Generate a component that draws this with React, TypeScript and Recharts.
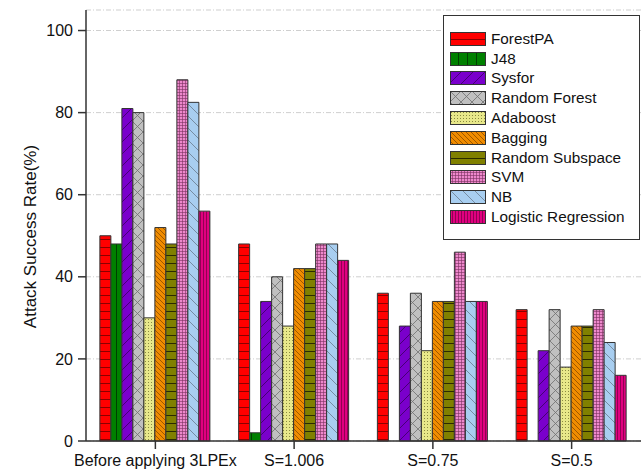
import { BarChart, Bar, XAxis, YAxis, CartesianGrid, Legend } from "recharts";

const groups = ["Before applying 3LPEx", "S=1.006", "S=0.75", "S=0.5"];
const forestPA = [50, 48, 36, 32];
const j48 = [48, 2, 0, 0];
const sysfor = [81, 34, 28, 22];
const randomForest = [80, 40, 36, 32];
const adaboost = [30, 28, 22, 18];
const bagging = [52, 42, 34, 28];
const randomSubspace = [48, 42, 34, 28];
const svm = [88, 48, 46, 32];
const nb = [82.5, 48, 34, 24];
const logistic = [56, 44, 34, 16];
const yTicks = [0, 20, 40, 60, 80, 100];

const series = [
  { key: "forestPA", name: "ForestPA", values: forestPA, pat: "pForest" },
  { key: "j48", name: "J48", values: j48, pat: "pJ48" },
  { key: "sysfor", name: "Sysfor", values: sysfor, pat: "pSysfor" },
  { key: "randomForest", name: "Random Forest", values: randomForest, pat: "pRF" },
  { key: "adaboost", name: "Adaboost", values: adaboost, pat: "pAda" },
  { key: "bagging", name: "Bagging", values: bagging, pat: "pBag" },
  { key: "randomSubspace", name: "Random Subspace", values: randomSubspace, pat: "pRS" },
  { key: "svm", name: "SVM", values: svm, pat: "pSVM" },
  { key: "nb", name: "NB", values: nb, pat: "pNB" },
  { key: "logistic", name: "Logistic Regression", values: logistic, pat: "pLR" },
];

const data = groups.map((g, i) => {
  const row: Record<string, string | number> = { group: g };
  for (const s of series) row[s.key] = s.values[i];
  return row;
});

const FONT = '"Liberation Sans", Arial, sans-serif';
const EDGE = "#333";

function Patterns() {
  return (
    <defs>
      <pattern id="pForest" patternUnits="userSpaceOnUse" width="8" height="8">
        <rect width="8" height="8" fill="#ff0000" />
        <line x1="0" y1="7.5" x2="8" y2="7.5" stroke="#8a0000" strokeWidth="1" />
      </pattern>
      <pattern id="pJ48" patternUnits="userSpaceOnUse" width="9" height="9">
        <rect width="9" height="9" fill="#008000" />
        <line x1="8.5" y1="0" x2="8.5" y2="9" stroke="#004000" strokeWidth="1" />
      </pattern>
      <pattern id="pSysfor" patternUnits="userSpaceOnUse" width="12" height="12">
        <rect width="12" height="12" fill="#7a00cc" />
        <path d="M0 12 L12 0 M-3 3 L3 -3 M9 15 L15 9" stroke="#3a0060" strokeWidth="0.8" />
      </pattern>
      <pattern id="pRF" patternUnits="userSpaceOnUse" width="11" height="11">
        <rect width="11" height="11" fill="#c0c0c0" />
        <path d="M0 0 L11 11 M0 11 L11 0" stroke="#707070" strokeWidth="0.8" />
      </pattern>
      <pattern id="pAda" patternUnits="userSpaceOnUse" width="3" height="3">
        <rect width="3" height="3" fill="#e8e88a" />
        <rect x="1" y="1" width="1" height="1" fill="#8a8a40" />
      </pattern>
      <pattern id="pBag" patternUnits="userSpaceOnUse" width="5" height="5">
        <rect width="5" height="5" fill="#f08c00" />
        <path d="M0 0 L5 5 M-1 4 L1 6 M4 -1 L6 1" stroke="#7a4000" strokeWidth="0.7" />
      </pattern>
      <pattern id="pRS" patternUnits="userSpaceOnUse" width="8" height="8">
        <rect width="8" height="8" fill="#808000" />
        <line x1="0" y1="7.5" x2="8" y2="7.5" stroke="#2a2a00" strokeWidth="1" />
      </pattern>
      <pattern id="pSVM" patternUnits="userSpaceOnUse" width="3" height="3">
        <rect width="3" height="3" fill="#ee88cc" />
        <path d="M0 2.5 L3 2.5 M2.5 0 L2.5 3" stroke="#7a3060" strokeWidth="0.6" />
      </pattern>
      <pattern id="pNB" patternUnits="userSpaceOnUse" width="12" height="12">
        <rect width="12" height="12" fill="#a8cef0" />
        <path d="M0 0 L12 12 M-3 9 L3 15 M9 -3 L15 3" stroke="#607080" strokeWidth="0.7" />
      </pattern>
      <pattern id="pLR" patternUnits="userSpaceOnUse" width="3" height="3">
        <rect width="3" height="3" fill="#e0007f" />
        <line x1="2.5" y1="0" x2="2.5" y2="3" stroke="#700040" strokeWidth="0.7" />
      </pattern>
    </defs>
  );
}

function LegendBox() {
  return (
    <div
      style={{
        width: 197,
        height: 225,
        border: `1px solid ${EDGE}`,
        background: "#fff",
        boxSizing: "border-box",
        paddingTop: 13,
        paddingLeft: 6,
        fontFamily: FONT,
      }}
    >
      {series.map((s) => (
        <div key={s.key} style={{ display: "flex", alignItems: "center", height: 19.8 }}>
          <svg width={36} height={14} style={{ display: "block" }}>
            <rect x={0.5} y={0.5} width={35} height={13} fill={`url(#${s.pat})`} stroke={EDGE} />
          </svg>
          <span style={{ marginLeft: 5, fontSize: 15.3, color: "#111", whiteSpace: "nowrap" }}>
            {s.name}
          </span>
        </div>
      ))}
    </div>
  );
}

export default function App() {
  return (
    <div style={{ position: "absolute", left: 0, top: 0, background: "#fff" }}>
      <BarChart
        width={644}
        height={471}
        data={data}
        margin={{ top: 10, right: 3, bottom: 0, left: 0 }}
        barCategoryGap="10%"
        barGap={0}
        style={{ fontFamily: FONT }}
      >
        <Patterns />
        <CartesianGrid
          horizontal
          vertical={false}
          stroke="#cfcfcf"
          strokeDasharray="5 2 1 2"
        />
        <XAxis
          dataKey="group"
          height={30}
          tickSize={8}
          tickMargin={6}
          tick={{ fontSize: 16, fill: "#111" }}
          stroke={EDGE}
          strokeWidth={1.5}
          interval={0}
        />
        <XAxis
          xAxisId="top"
          orientation="top"
          dataKey="group"
          height={0}
          tick={false}
          tickLine={false}
          stroke={EDGE}
          strokeWidth={1.5}
        />
        <YAxis
          width={86}
          domain={[0, 105]}
          ticks={yTicks}
          tickSize={8}
          tickMargin={5}
          tick={{ fontSize: 16, fill: "#111" }}
          stroke={EDGE}
          strokeWidth={1.5}
          label={{
            value: "Attack Success Rate(%)",
            angle: -90,
            position: "insideLeft",
            dx: 25,
            dy: 11,
            style: { fontSize: 17, fill: "#111", textAnchor: "middle" },
          }}
        />
        <YAxis
          yAxisId="right"
          orientation="right"
          width={0}
          domain={[0, 105]}
          tick={false}
          tickLine={false}
          stroke={EDGE}
          strokeWidth={1.5}
        />
        <Legend
          layout="vertical"
          align="center"
          verticalAlign="middle"
          wrapperStyle={{ left: 443, top: 15, width: 197, height: 225 }}
          content={() => <LegendBox />}
        />
        {series.map((s) => (
          <Bar
            key={s.key}
            dataKey={s.key}
            name={s.name}
            fill={`url(#${s.pat})`}
            stroke={EDGE}
            strokeWidth={1}
            isAnimationActive={false}
          />
        ))}
      </BarChart>
    </div>
  );
}
